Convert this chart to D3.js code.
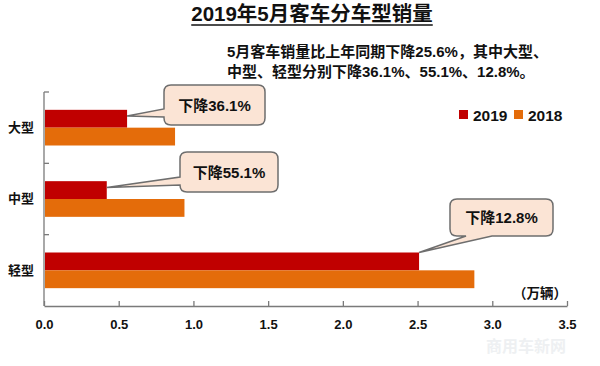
<!DOCTYPE html>
<html>
<head>
<meta charset="utf-8">
<script src="https://cdn.jsdelivr.net/npm/d3@7"></script>
<style>
  body { margin: 0; background: #fff; }
  svg text { font-family: "Liberation Sans", "Noto Sans CJK SC", sans-serif; font-weight: bold; fill: #111; }
</style>
</head>
<body>
<div id="chart"></div>
<script>
const categories = ["大型", "中型", "轻型"];
const seriesNames = ["2019", "2018"];
const values2019 = [0.556, 0.42, 2.51];
const values2018 = [0.877, 0.94, 2.88];
const dropLabels = ["下降36.1%", "下降55.1%", "下降12.8%"];
const xTicks = [0, 0.5, 1, 1.5, 2, 2.5, 3, 3.5];
const colors = ["#c00000", "#e46c0a"];

const width = 600, height = 366;

const svg = d3.select("#chart")
  .append("svg")
  .attr("width", width)
  .attr("height", height);

// title with underline
const title = svg.append("text")
  .attr("x", 312)
  .attr("y", 21)
  .attr("text-anchor", "middle")
  .attr("font-size", 20.5)
  .text("2019年5月客车分车型销量");
const tb = title.node().getBBox();
svg.append("line")
  .attr("x1", tb.x).attr("x2", tb.x + tb.width)
  .attr("y1", 25).attr("y2", 25)
  .attr("stroke", "#111").attr("stroke-width", 1.6);

svg.append("text").attr("x", 227).attr("y", 57).attr("font-size", 15)
  .text("5月客车销量比上年同期下降25.6%，其中大型、");
svg.append("text").attr("x", 227).attr("y", 77).attr("font-size", 15)
  .text("中型、轻型分别下降36.1%、55.1%、12.8%。");

// scales
const xScale = d3.scaleLinear().domain([0, 3.5]).range([44, 567]);
const yScale = d3.scaleBand().domain(categories).range([92, 306])
  .paddingInner(0.5).paddingOuter(0.25);
const ySub = d3.scaleBand().domain(seriesNames).range([0, yScale.bandwidth()]);

// axes
const xAxis = svg.append("g")
  .attr("transform", "translate(0,306)")
  .call(d3.axisBottom(xScale).tickValues(xTicks).tickSizeInner(-5).tickSizeOuter(0)
    .tickFormat(d3.format(".1f")).tickPadding(14));
xAxis.select(".domain").attr("stroke", "#7a7a7a").attr("stroke-width", 1.3);
xAxis.selectAll(".tick line").attr("stroke", "#7a7a7a").attr("stroke-width", 1.3);
xAxis.selectAll(".tick text").attr("font-size", 13).attr("fill", "#111");

const yAxis = svg.append("g")
  .attr("transform", "translate(44,0)")
  .call(d3.axisLeft(yScale).tickSize(0).tickPadding(10));
yAxis.select(".domain").attr("d", "M0,92V306").attr("stroke", "#7a7a7a").attr("stroke-width", 1.3);
yAxis.selectAll(".tick text").attr("font-size", 13).attr("fill", "#111")
  .attr("font-family", "Noto Sans CJK SC");
// inside tick marks at band boundaries
const step = yScale.step();
const bounds = [92, 92 + step, 92 + 2 * step];
yAxis.selectAll(".bound").data(bounds).join("line")
  .attr("x1", 0).attr("x2", 5).attr("y1", d => d).attr("y2", d => d)
  .attr("stroke", "#7a7a7a").attr("stroke-width", 1.3);

// bars
const rows = categories.map((c, i) => ({ cat: c, vals: [values2019[i], values2018[i]] }));
const groups = svg.append("g").selectAll("g").data(rows).join("g")
  .attr("transform", d => `translate(0,${yScale(d.cat)})`);
groups.selectAll("rect")
  .data(d => d.vals.map((v, j) => ({ key: seriesNames[j], v, j })))
  .join("rect")
  .attr("x", xScale(0) + 1)
  .attr("y", d => ySub(d.key))
  .attr("height", ySub.bandwidth())
  .attr("width", d => xScale(d.v) - xScale(0) - 1)
  .attr("fill", d => colors[d.j]);

// legend
const legend = svg.append("g").attr("transform", "translate(459,110)");
seriesNames.forEach((s, i) => {
  const g = legend.append("g").attr("transform", `translate(${i * 55},0)`);
  g.append("rect").attr("width", 9).attr("height", 9).attr("fill", colors[i]);
  g.append("text").attr("x", 14).attr("y", 10.5).attr("font-size", 15.5).text(s);
});

// unit
svg.append("text").attr("x", 567).attr("y", 298).attr("text-anchor", "end")
  .attr("font-size", 13.5).attr("font-family", "Noto Sans CJK SC").text("（万辆）");

// callouts: box layout + tail side, tail tip taken from the 2019 bar end
const boxes = [
  { x: 164, y: 85, w: 101, h: 40, side: "left", a: 109, b: 117 },
  { x: 180, y: 152, w: 98, h: 40, side: "left", a: 177, b: 185 },
  { x: 450, y: 199, w: 103, h: 37, side: "bottom", a: 466, b: 492 }
];
function calloutPath(bx, px, py) {
  const { x, y, w, h } = bx, r = 7;
  let p = `M${x + r},${y}H${x + w - r}Q${x + w},${y} ${x + w},${y + r}V${y + h - r}Q${x + w},${y + h} ${x + w - r},${y + h}`;
  if (bx.side === "bottom") {
    p += `H${bx.b}L${px},${py}L${bx.a},${y + h}`;
  }
  p += `H${x + r}Q${x},${y + h} ${x},${y + h - r}`;
  if (bx.side === "left") {
    p += `V${bx.b}L${px},${py}L${x},${bx.a}`;
  }
  p += `V${y + r}Q${x},${y} ${x + r},${y}Z`;
  return p;
}
const callouts = svg.append("g");
boxes.forEach((bx, i) => {
  const px = xScale(values2019[i]);
  const top = yScale(categories[i]) + ySub("2019");
  const py = bx.side === "bottom" ? top : top + ySub.bandwidth() * 0.35;
  callouts.append("path")
    .attr("d", calloutPath(bx, px, py))
    .attr("fill", "#fbe4d5")
    .attr("stroke", "#6e6e6e")
    .attr("stroke-width", 1.5);
  callouts.append("text")
    .attr("x", bx.x + bx.w / 2)
    .attr("y", bx.y + bx.h / 2 + 5.5)
    .attr("text-anchor", "middle")
    .attr("font-size", 15)
    .text(dropLabels[i]);
});

// faint watermark
svg.append("text").attr("x", 566).attr("y", 352).attr("text-anchor", "end")
  .attr("font-size", 16).attr("font-family", "Noto Sans CJK SC")
  .style("fill", "#eef0f2").text("商用车新网");
</script>
</body>
</html>
